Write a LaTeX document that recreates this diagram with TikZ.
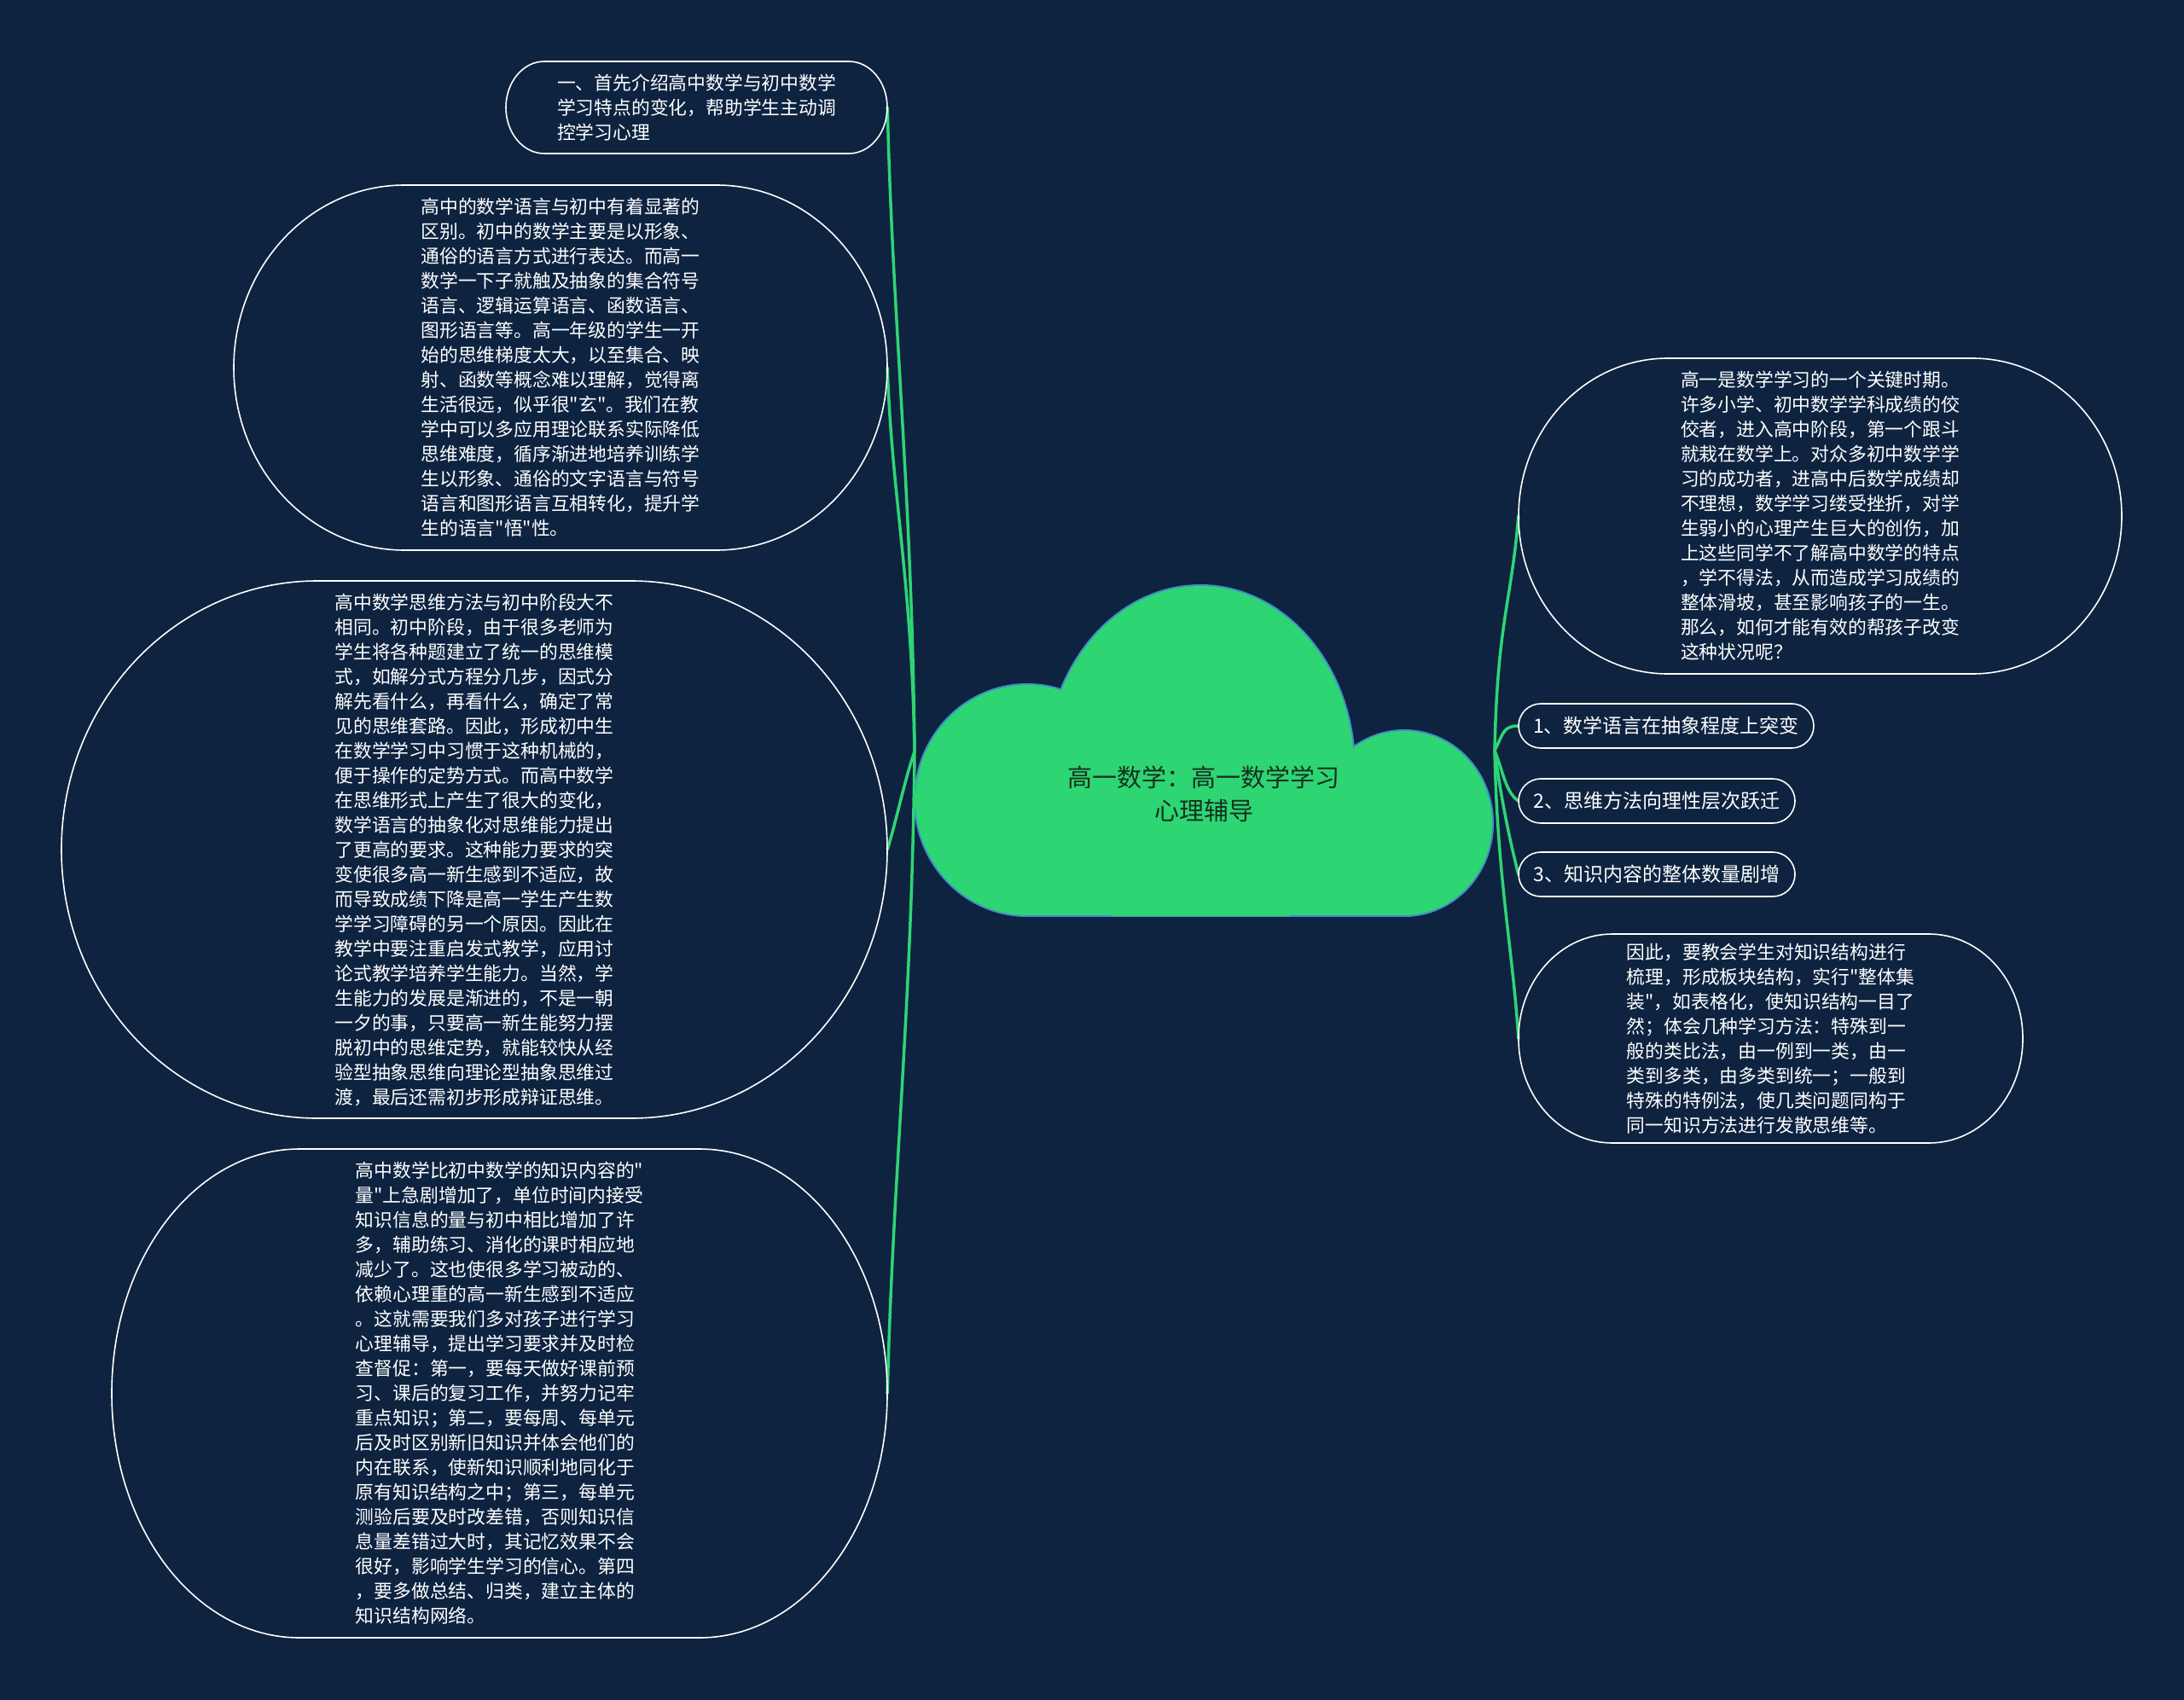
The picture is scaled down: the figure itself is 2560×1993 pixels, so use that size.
\documentclass[tikz,border=0pt]{standalone}
\usepackage{fontspec}
\setmainfont{Noto Sans CJK SC}[Ligatures=TeXOff]
\definecolor{bg}{RGB}{13,35,64}
\definecolor{gr}{RGB}{46,213,115}
\definecolor{cloudline}{RGB}{66,139,202}
\definecolor{ctext}{RGB}{22,48,32}
\newcommand\myebox[6]{\draw[boxline] ({#1+#5},{-#2}) -- ({#3-#5},{-#2}) arc[start angle=90,end angle=0,x radius=#5,y radius=#6] -- ({#3},{-#4+#6}) arc[start angle=0,end angle=-90,x radius=#5,y radius=#6] -- ({#1+#5},{-#4}) arc[start angle=270,end angle=180,x radius=#5,y radius=#6] -- ({#1},{-#2-#6}) arc[start angle=180,end angle=90,x radius=#5,y radius=#6] -- cycle;}
\begin{document}
\begin{tikzpicture}[x=1pt,y=1pt,
  boxline/.style={draw=white,line width=1.6pt},
  conn/.style={draw=gr,line width=3.5pt,line cap=round},
  txt/.style={text=white,align=left,inner sep=0pt,font=\fontsize{21.8}{29}\selectfont},
  stxt/.style={text=white,align=left,inner sep=0pt,font=\fontsize{23}{29}\selectfont}]
\fill[bg] (0,0) rectangle (2560,-1993);
\useasboundingbox (0,0) rectangle (2560,-1993);

% cloud
\begin{scope}
\clip (1000,-600) rectangle (1800,-1075.5);
\draw[cloudline,line width=4pt] (1204,-938) ellipse[x radius=131,y radius=135];
\draw[cloudline,line width=4pt] (1646,-965) ellipse[x radius=103,y radius=108];
\draw[cloudline,line width=4pt] (1204,-900) rectangle (1646,-1073);
\end{scope}
\begin{scope}
\clip (1000,-600) rectangle (1800,-1000);
\draw[cloudline,line width=4pt] (1407,-900) ellipse[x radius=180,y radius=213];
\end{scope}
\begin{scope}
\clip (1000,-600) rectangle (1800,-1073);
\fill[gr] (1204,-938) ellipse[x radius=131,y radius=135];
\fill[gr] (1407,-900) ellipse[x radius=180,y radius=213];
\fill[gr] (1646,-965) ellipse[x radius=103,y radius=108];
\fill[gr] (1204,-900) rectangle (1646,-1073);
\end{scope}
\node[font=\fontsize{29}{39}\selectfont,text=ctext,align=center,inner sep=0pt] (c) at (1411,-931) {高一数学：高一数学学习\\心理辅导};

% text nodes
\node[txt,minimum width=447,minimum height=108] (b1) at (816.5,-126) {一、首先介绍高中数学与初中数学\\学习特点的变化，帮助学生主动调\\控学习心理};
\node[txt,minimum width=766,minimum height=428] (b2) at (657,-431) {高中的数学语言与初中有着显著的\\区别。初中的数学主要是以形象、\\通俗的语言方式进行表达。而高一\\数学一下子就触及抽象的集合符号\\语言、逻辑运算语言、函数语言、\\图形语言等。高一年级的学生一开\\始的思维梯度太大，以至集合、映\\射、函数等概念难以理解，觉得离\\生活很远，似乎很"玄"。我们在教\\学中可以多应用理论联系实际降低\\思维难度，循序渐进地培养训练学\\生以形象、通俗的文字语言与符号\\语言和图形语言互相转化，提升学\\生的语言"悟"性。};
\node[txt,minimum width=968,minimum height=630] (b3) at (556,-996) {高中数学思维方法与初中阶段大不\\相同。初中阶段，由于很多老师为\\学生将各种题建立了统一的思维模\\式，如解分式方程分几步，因式分\\解先看什么，再看什么，确定了常\\见的思维套路。因此，形成初中生\\在数学学习中习惯于这种机械的，\\便于操作的定势方式。而高中数学\\在思维形式上产生了很大的变化，\\数学语言的抽象化对思维能力提出\\了更高的要求。这种能力要求的突\\变使很多高一新生感到不适应，故\\而导致成绩下降是高一学生产生数\\学学习障碍的另一个原因。因此在\\教学中要注重启发式教学，应用讨\\论式教学培养学生能力。当然，学\\生能力的发展是渐进的，不是一朝\\一夕的事，只要高一新生能努力摆\\脱初中的思维定势，就能较快从经\\验型抽象思维向理论型抽象思维过\\渡，最后还需初步形成辩证思维。};
\node[txt,minimum width=909,minimum height=573] (b4) at (585.5,-1633.5) {高中数学比初中数学的知识内容的"\\量"上急剧增加了，单位时间内接受\\知识信息的量与初中相比增加了许\\多，辅助练习、消化的课时相应地\\减少了。这也使很多学习被动的、\\依赖心理重的高一新生感到不适应\\。这就需要我们多对孩子进行学习\\心理辅导，提出学习要求并及时检\\查督促：第一，要每天做好课前预\\习、课后的复习工作，并努力记牢\\重点知识；第二，要每周、每单元\\后及时区别新旧知识并体会他们的\\内在联系，使新知识顺利地同化于\\原有知识结构之中；第三，每单元\\测验后要及时改差错，否则知识信\\息量差错过大时，其记忆效果不会\\很好，影响学生学习的信心。第四\\，要多做总结、归类，建立主体的\\知识结构网络。};
\node[txt,minimum width=707,minimum height=370] (b5) at (2133.5,-605) {高一是数学学习的一个关键时期。\\许多小学、初中数学学科成绩的佼\\佼者，进入高中阶段，第一个跟斗\\就栽在数学上。对众多初中数学学\\习的成功者，进高中后数学成绩却\\不理想，数学学习缕受挫折，对学\\生弱小的心理产生巨大的创伤，加\\上这些同学不了解高中数学的特点\\，学不得法，从而造成学习成绩的\\整体滑坡，甚至影响孩子的一生。\\那么，如何才能有效的帮孩子改变\\这种状况呢？};
\node[stxt,minimum width=346,minimum height=52] (b6) at (1953,-851) {1、数学语言在抽象程度上突变};
\node[stxt,minimum width=324,minimum height=52] (b7) at (1942,-939) {2、思维方法向理性层次跃迁};
\node[stxt,minimum width=324,minimum height=52] (b8) at (1942,-1025) {3、知识内容的整体数量剧增};
\node[txt,minimum width=591,minimum height=245] (b9) at (2075.5,-1217.5) {因此，要教会学生对知识结构进行\\梳理，形成板块结构，实行"整体集\\装"，如表格化，使知识结构一目了\\然；体会几种学习方法：特殊到一\\般的类比法，由一例到一类，由一\\类到多类，由多类到统一；一般到\\特殊的特例法，使几类问题同构于\\同一知识方法进行发散思维等。};

% connectors
\coordinate (jl) at (1072,-881);
\coordinate (jr) at (1752,-880);
\draw[conn] (jl) .. controls +(-3,300) and +(6,-250) .. (b1.east);
\draw[conn] (jl) .. controls +(-3,200) and +(5,-150) .. (b2.east);
\draw[conn] (jl) .. controls +(-12,-35) and +(12,40) .. (b3.east);
\draw[conn] (jl) .. controls +(-3,-300) and +(6,250) .. (b4.east);
\draw[conn] (jr) .. controls +(3,150) and +(-8,-100) .. (b5.west);
\draw[conn] (jr) .. controls +(10,20) and +(-18,0) .. (b6.west);
\draw[conn] (jr) .. controls +(10,-25) and +(-15,10) .. (b7.west);
\draw[conn] (jr) .. controls +(8,-60) and +(-10,40) .. (b8.west);
\draw[conn] (jr) .. controls +(3,-150) and +(-6,100) .. (b9.west);

% box outlines
\myebox{593}{72}{1040}{180}{45}{54}
\myebox{274}{217}{1040}{645}{200}{214}
\myebox{72}{681}{1040}{1311}{300}{315}
\myebox{131}{1347}{1040}{1920}{220}{286}
\myebox{1780}{420}{2487}{790}{175}{185}
\myebox{1780}{825}{2126}{877}{26}{26}
\myebox{1780}{913}{2104}{965}{26}{26}
\myebox{1780}{999}{2104}{1051}{26}{26}
\myebox{1780}{1095}{2371}{1340}{110}{122}
\end{tikzpicture}
\end{document}
